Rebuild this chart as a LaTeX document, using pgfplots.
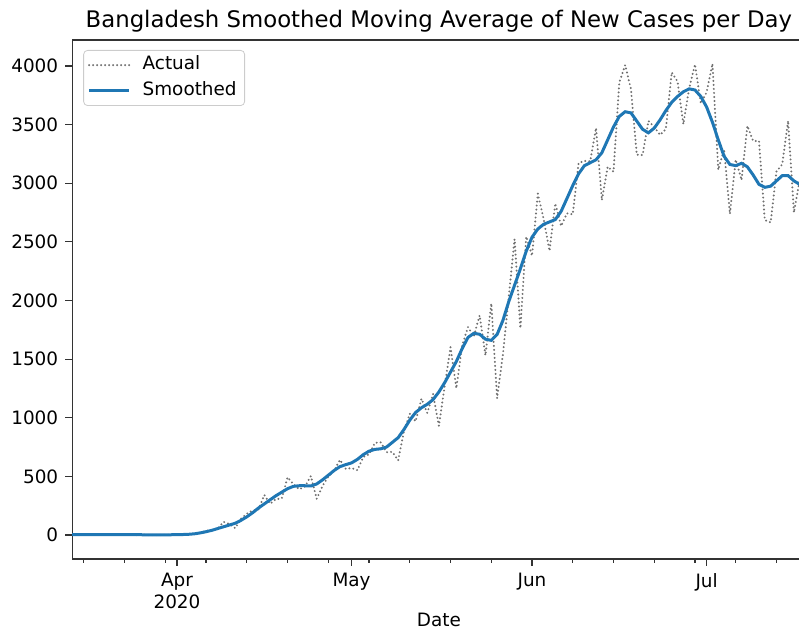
\documentclass[border=0pt]{standalone}
\usepackage{pgfplots}
\pgfplotsset{compat=1.18}
\usepackage{pgfplotstable}
\usepackage{fontspec}
\setmainfont{DejaVu Sans}
\definecolor{mplblue}{HTML}{1F77B4}
\definecolor{dotgray}{HTML}{707070}

\pgfplotstableread{
d v
-18 2
-17 2
-16 3
-15 2
-14 4
-13 3
-12 3
-11 4
-10 3
-9 6
-8 6
-7 0
-6 5
-5 0
-4 0
-3 0
-2 1
-1 2
0 3
1 2
2 5
3 9
4 18
5 35
6 41
7 54
8 112
9 94
10 58
11 139
12 182
13 209
14 219
15 341
16 266
17 306
18 312
19 492
20 434
21 390
22 414
23 503
24 309
25 418
26 497
27 549
28 641
29 564
30 571
31 552
32 665
33 688
34 786
35 790
36 706
37 709
38 636
39 887
40 1034
41 969
42 1162
43 1041
44 1202
45 930
46 1273
47 1602
48 1251
49 1617
50 1773
51 1694
52 1873
53 1532
54 1975
55 1166
56 1541
57 2029
58 2523
59 1764
60 2545
61 2381
62 2911
63 2695
64 2423
65 2828
66 2635
67 2743
68 2735
69 3171
70 3190
71 3187
72 3471
73 2856
74 3141
75 3099
76 3862
77 4008
78 3803
79 3243
80 3240
81 3531
82 3480
83 3412
84 3462
85 3946
86 3868
87 3504
88 3809
89 4014
90 3682
91 3775
92 4019
93 3114
94 3288
95 2738
96 3201
97 3027
98 3489
99 3360
100 3360
101 2686
102 2666
103 3099
104 3163
105 3533
106 2750
107 3030
108 3100
}\actual

\pgfplotstableread{
d v
-18 3
-17 3
-16 3
-15 3
-14 3
-13 3
-12 3
-11 3
-10 3
-9 3
-8 3
-7 3
-6 2
-5 2
-4 2
-3 2
-2 2
-1 2
0 3
1 4
2 6
3 10
4 18
5 28
6 40
7 55
8 70
9 85
10 100
11 125
12 155
13 190
14 230
15 265
16 300
17 335
18 365
19 395
20 415
21 420
22 420
23 418
24 435
25 470
26 510
27 550
28 583
29 600
30 615
31 645
32 685
33 715
34 730
35 735
36 750
37 790
38 830
39 900
40 980
41 1045
42 1085
43 1115
44 1155
45 1220
46 1300
47 1390
48 1480
49 1590
50 1685
51 1720
52 1712
53 1670
54 1660
55 1710
56 1830
57 1990
58 2130
59 2270
60 2420
61 2540
62 2610
63 2650
64 2670
65 2690
66 2760
67 2870
68 2980
69 3080
70 3150
71 3175
72 3200
73 3260
74 3370
75 3480
76 3570
77 3610
78 3600
79 3530
80 3460
81 3430
82 3470
83 3540
84 3620
85 3690
86 3740
87 3780
88 3805
89 3795
90 3740
91 3650
92 3520
93 3370
94 3230
95 3160
96 3150
97 3170
98 3140
99 3070
100 2990
101 2965
102 2975
103 3020
104 3065
105 3065
106 3020
107 2990
108 2960
}\smoothed

\begin{document}
\begin{tikzpicture}
\begin{axis}[
  at={(0,0)}, anchor=south west,
  scale only axis,
  width=366.66pt, height=259.5pt,
  xmin=-18, xmax=108,
  ymin=-204.7, ymax=4221.7,
  axis line style={black!80, line width=0.6pt},
  tick pos=left,
  tick align=outside,
  major tick length=3.5pt,
  minor tick length=2pt,
  every tick/.style={black!80, line width=0.6pt},
  xtick={0,30,61,91},
  xticklabels={{Apr\\2020},May,Jun,Jul},
  minor xtick={-16,-9,-2,5,12,19,26,33,40,47,54,68,75,82,89,96,103},
  ytick={0,500,...,4000},
  xticklabel style={align=center, font=\fontsize{9.2}{11}\selectfont},
  yticklabel style={font=\fontsize{9.2}{11}\selectfont},
  /pgf/number format/assume math mode=true,
  /pgf/number format/1000 sep={},
  title={Bangladesh Smoothed Moving Average of New Cases per Day},
  title style={at={(0.5,1)}, anchor=base, inner sep=0pt, font=\fontsize{11.4}{13}\selectfont},
  xlabel={Date},
  xlabel style={at={(0.5,0)}, anchor=base, yshift=-34pt, inner sep=0pt, font=\fontsize{9.2}{11}\selectfont},
  legend cell align=left,
  legend style={at={(0,1)}, anchor=north west, xshift=5.5pt, yshift=-5pt,
    draw=black!20, rounded corners=2pt, fill=white,
    font=\fontsize{9.2}{11}\selectfont,
    inner xsep=2pt, inner ysep=1pt,
    nodes={inner sep=2pt, text height=6.8pt, text depth=2pt}},
  legend image code/.code={\draw[#1] (0pt,0pt) -- (20pt,0pt); \path (24pt,0pt);},
]
\addplot[dotgray, line width=1.1pt, dash pattern=on 0pt off 2pt, line cap=round] table[x=d, y=v] {\actual};
\addlegendentry{Actual}
\addplot[mplblue, line width=1.5pt] table[x=d, y=v] {\smoothed};
\addlegendentry{Smoothed}
\end{axis}
\pgfresetboundingbox
\path[use as bounding box] (-36.12pt,-35.5pt) rectangle (363.38pt,279.5pt);
\end{tikzpicture}
\end{document}
